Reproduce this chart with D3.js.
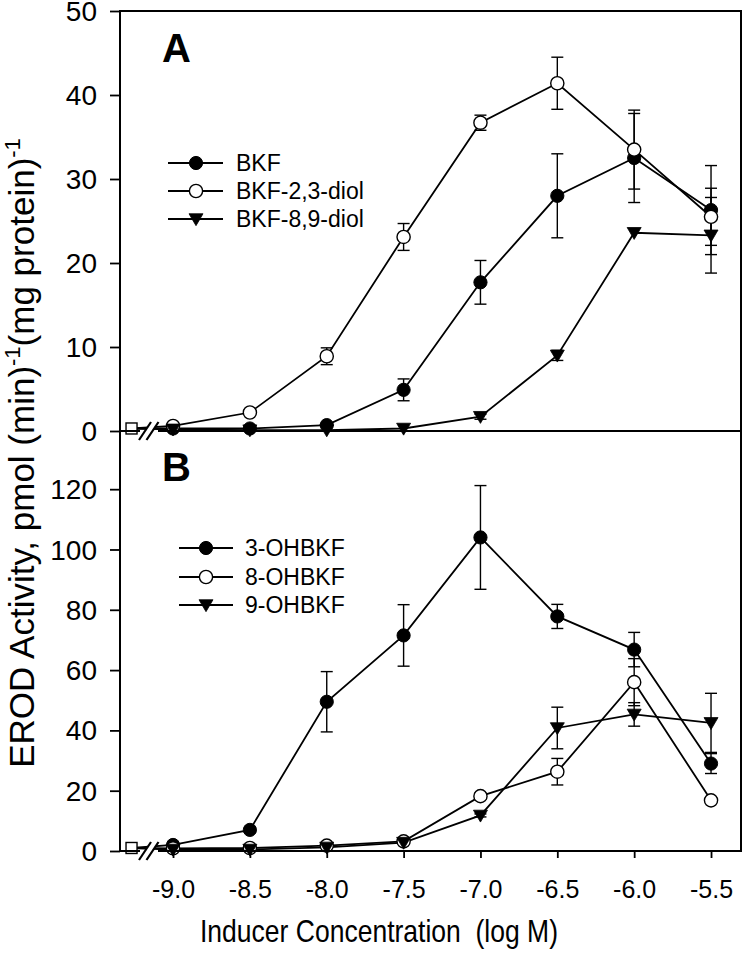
<!DOCTYPE html>
<html>
<head>
<meta charset="utf-8">
<script src="https://cdn.jsdelivr.net/npm/d3@7"></script>
<style>
  html, body { margin: 0; padding: 0; background: #fff; }
  svg { display: block; }
  text { font-family: "Liberation Sans", Arial, Helvetica, sans-serif; fill: #000; }
</style>
</head>
<body>
<svg id="chart" width="743" height="954"></svg>
<script>
// ---------- DATA ----------
const concentrations = [-9.0, -8.5, -8.0, -7.5, -7.0, -6.5, -6.0, -5.5];
const xTickLabels = ["-9.0", "-8.5", "-8.0", "-7.5", "-7.0", "-6.5", "-6.0", "-5.5"];
const controlX = -9.27;
const controlA = 0.3;
const controlB = 1.0;

const yTicksA = [0, 10, 20, 30, 40, 50];
const yTicksB = [0, 20, 40, 60, 80, 100, 120];

const namesA = ["BKF", "BKF-2,3-diol", "BKF-8,9-diol"];
const bkf      = [0.3, 0.3, 0.7, 4.9, 17.7, 28.0, 32.5, 26.3];
const bkfErr   = [0, 0, 0, 1.3, 2.6, 5.0, 5.3, 5.3];
const diol23   = [0.6, 2.2, 8.9, 23.1, 36.7, 41.4, 33.5, 25.5];
const diol23Err= [0, 0, 1.0, 1.6, 0.9, 3.1, 4.7, 3.4];
const diol89   = [0.2, 0.1, 0.1, 0.3, 1.7, 9.0, 23.6, 23.3];
const diol89Err= [0, 0, 0, 0, 0.3, 0.6, 0, 4.5];

const namesB = ["3-OHBKF", "8-OHBKF", "9-OHBKF"];
const oh3    = [2.0, 7.0, 49.5, 71.5, 104.0, 77.8, 66.8, 29.0];
const oh3Err = [0.5, 0.8, 10.0, 10.2, 17.2, 4.0, 5.7, 3.3];
const oh8    = [0.9, 1.0, 1.8, 3.2, 18.2, 26.3, 56.0, 16.8];
const oh8Err = [0, 0, 0, 0, 1.0, 4.4, 7.8, 1.0];
const oh9    = [0.5, 0.5, 1.2, 2.8, 11.8, 40.8, 45.3, 42.5];
const oh9Err = [0, 0, 0, 0, 0.5, 6.9, 3.9, 9.8];

// ---------- LAYOUT ----------
const svg = d3.select("#chart");
const pLeft = 120, pRight = 741, pTop = 11, pMid = 431, pBottom = 851;

const x = d3.scaleLinear().domain([-9.345, -5.305]).range([pLeft, pRight]);
const yA = d3.scaleLinear().domain([0, 50]).range([pMid, pTop]);
const yB = d3.scaleLinear().domain([0, 139.3]).range([pBottom, pMid]);

const panels = [
  { y: yA, ticks: yTicksA, control: controlA, letter: "A", letterY: 62,
    series: [
      { name: namesA[0], v: bkf, e: bkfErr, m: "filled" },
      { name: namesA[1], v: diol23, e: diol23Err, m: "open" },
      { name: namesA[2], v: diol89, e: diol89Err, m: "tri" }
    ],
    legend: { x1: 168, x2: 223, mx: 196, tx: 236, ys: [163, 191, 219] } },
  { y: yB, ticks: yTicksB, control: controlB, letter: "B", letterY: 481,
    series: [
      { name: namesB[0], v: oh3, e: oh3Err, m: "filled" },
      { name: namesB[1], v: oh8, e: oh8Err, m: "open" },
      { name: namesB[2], v: oh9, e: oh9Err, m: "tri" }
    ],
    legend: { x1: 179, x2: 233, mx: 206, tx: 245, ys: [548, 577, 605] } }
];

function drawMarker(g, type, cx, cy) {
  if (type === "filled") {
    g.append("circle").attr("cx", cx).attr("cy", cy).attr("r", 6.6)
      .attr("fill", "#000").attr("stroke", "#000").attr("stroke-width", 1);
  } else if (type === "open") {
    g.append("circle").attr("cx", cx).attr("cy", cy).attr("r", 6.6)
      .attr("fill", "#fff").attr("stroke", "#000").attr("stroke-width", 1.4);
  } else {
    const s = 7;
    g.append("path")
      .attr("d", `M${cx - s},${cy - s * 0.75} L${cx + s},${cy - s * 0.75} L${cx},${cy + s * 0.95} Z`)
      .attr("fill", "#000").attr("stroke", "#000").attr("stroke-width", 0.8);
  }
}

const line = d3.line();

panels.forEach(p => {
  const g = svg.append("g");
  // y axis
  const ax = d3.axisLeft(p.y).tickValues(p.ticks).tickSize(10).tickPadding(13)
    .tickFormat(d => String(d));
  const ga = g.append("g").attr("transform", `translate(${pLeft},0)`).call(ax);
  ga.select(".domain").remove();
  ga.selectAll(".tick line").attr("stroke", "#000").attr("stroke-width", 1.8);
  ga.selectAll(".tick text").attr("font-size", 28).attr("fill", "#000")
    .attr("dy", "0.34em")
    .style("font-family", "'Liberation Sans', Arial, sans-serif");

  // series lines (control -> data)
  p.series.forEach(s => {
    const pts = [[x(controlX), p.y(p.control)]].concat(
      concentrations.map((c, i) => [x(c), p.y(s.v[i])]));
    g.append("path").attr("d", line(pts)).attr("fill", "none")
      .attr("stroke", "#000").attr("stroke-width", 1.8);
  });
  // error bars
  p.series.forEach(s => {
    concentrations.forEach((c, i) => {
      if (!s.e[i]) return;
      const cx = x(c), y1 = p.y(s.v[i] + s.e[i]), y2 = p.y(s.v[i] - s.e[i]);
      g.append("line").attr("x1", cx).attr("x2", cx).attr("y1", y1).attr("y2", y2)
        .attr("stroke", "#000").attr("stroke-width", 1.4);
      [y1, y2].forEach(yy => g.append("line").attr("x1", cx - 6).attr("x2", cx + 6)
        .attr("y1", yy).attr("y2", yy).attr("stroke", "#000").attr("stroke-width", 1.4));
    });
  });
  // markers
  p.series.forEach(s => {
    concentrations.forEach((c, i) => drawMarker(g, s.m, x(c), p.y(s.v[i])));
  });

  // axis break
  const by = p.y(0);
  g.append("path")
    .attr("d", `M140,${by + 9} L150,${by - 9} L158,${by - 9} L148,${by + 9} Z`)
    .attr("fill", "#fff").attr("stroke", "none");
  [0, 7.5].forEach(o => g.append("path")
    .attr("d", `M${139 + o},${by + 9} Q${143 + o},${by + 3} ${145 + o},${by} T${151 + o},${by - 9}`)
    .attr("fill", "none").attr("stroke", "#000").attr("stroke-width", 2.2));

  // control square
  const cx = x(controlX), cy = p.y(p.control);
  g.append("rect").attr("x", cx - 5.5).attr("y", cy - 5.5).attr("width", 11).attr("height", 11)
    .attr("fill", "#fff").attr("stroke", "#000").attr("stroke-width", 1.4);

  // panel letter
  g.append("text").attr("x", 162).attr("y", p.letterY).attr("font-size", 40)
    .attr("font-weight", "bold").text(p.letter);

  // legend
  p.series.forEach((s, i) => {
    const ly = p.legend.ys[i];
    g.append("line").attr("x1", p.legend.x1).attr("x2", p.legend.x2)
      .attr("y1", ly).attr("y2", ly).attr("stroke", "#000").attr("stroke-width", 1.8);
    drawMarker(g, s.m, p.legend.mx, ly);
    g.append("text").attr("x", p.legend.tx).attr("y", ly + 8).attr("font-size", 23)
      .text(s.name);
  });
});

// frame lines
const frame = svg.append("g").attr("stroke", "#000").attr("stroke-width", 2).attr("fill", "none");
frame.append("line").attr("x1", pLeft).attr("x2", pLeft).attr("y1", pTop - 1).attr("y2", pBottom + 1);
frame.append("line").attr("x1", pRight).attr("x2", pRight).attr("y1", pTop - 1).attr("y2", pBottom + 1);
frame.append("line").attr("x1", pLeft).attr("x2", pRight).attr("y1", pTop).attr("y2", pTop);
frame.append("line").attr("x1", pLeft).attr("x2", 140).attr("y1", pMid).attr("y2", pMid);
frame.append("line").attr("x1", 158).attr("x2", pRight).attr("y1", pMid).attr("y2", pMid);
frame.append("line").attr("x1", pLeft).attr("x2", 140).attr("y1", pBottom).attr("y2", pBottom);
frame.append("line").attr("x1", 158).attr("x2", pRight).attr("y1", pBottom).attr("y2", pBottom);

// x axis
const xa = d3.axisBottom(x).tickValues(concentrations).tickSize(7).tickPadding(22)
  .tickFormat((d, i) => xTickLabels[i]);
const gx = svg.append("g").attr("transform", `translate(0,${pBottom})`).call(xa);
gx.select(".domain").remove();
gx.selectAll(".tick line").attr("stroke", "#000").attr("stroke-width", 1.8);
gx.selectAll(".tick text").attr("font-size", 25).attr("fill", "#000")
  .style("font-family", "'Liberation Sans', Arial, sans-serif");

// x title
svg.append("text").attr("x", 200).attr("y", 942).attr("font-size", 32)
  .attr("textLength", 358).attr("lengthAdjust", "spacingAndGlyphs")
  .style("white-space", "pre")
  .text("Inducer Concentration  (log M)");

// y title
const yt = svg.append("text")
  .attr("transform", "translate(34,453) rotate(-90)")
  .attr("text-anchor", "middle").attr("font-size", 35);
yt.append("tspan").text("EROD Activity, pmol (min)");
yt.append("tspan").attr("dy", -14).attr("font-size", 22).text("-1");
yt.append("tspan").attr("dy", 14).text("(mg protein)");
yt.append("tspan").attr("dy", -14).attr("font-size", 22).text("-1");
</script>
</body>
</html>
